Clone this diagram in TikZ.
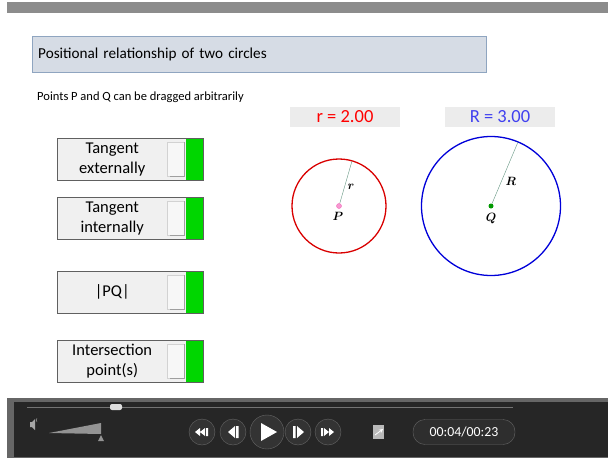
\documentclass[tikz,border=0pt]{standalone}
\usepackage{amsmath}
\usepackage{fontspec}
\setmainfont{Carlito}
\usetikzlibrary{calc,positioning,shapes}
\definecolor{titlefill}{RGB}{214,220,229}
\definecolor{titleline}{RGB}{143,165,192}
\definecolor{btngreen}{RGB}{0,214,0}
\definecolor{rblue}{RGB}{64,64,240}
\definecolor{radline}{RGB}{100,150,130}
\definecolor{bardark}{RGB}{38,38,38}

\begin{document}
\begin{tikzpicture}[x=1pt,y=-1pt,>=stealth]
    \tikzstyle{titlebox}=[rectangle,draw=titleline,fill=titlefill,anchor=north west,minimum width=454pt,minimum height=36pt,text width=442pt,inner xsep=6pt,align=left,font=\fontsize{15.2}{18}\selectfont]
    \tikzstyle{btn}=[rectangle,fill=gray!12,anchor=north west,minimum width=110pt,minimum height=42pt,text width=104pt,inner sep=0pt,align=center,font=\fontsize{16.5}{20}\selectfont]
    \tikzstyle{valbox}=[rectangle,fill=gray!15,minimum width=110pt,minimum height=20pt,inner sep=0pt,font=\fontsize{18.5}{20}\selectfont]
    \tikzstyle{pt}=[circle,inner sep=0pt,minimum size=5pt]
    \tikzstyle{lbl}=[inner sep=1pt,font=\fontsize{13}{14}\selectfont]
    \tikzstyle{ctrl}=[circle,fill=black!80,draw=black!60,minimum size=26pt,inner sep=0pt]

    \useasboundingbox (0,0) rectangle (608,458);
    \fill[white] (0,0) rectangle (608,458);
    \fill[black!45] (7,2) rectangle (608,13);

    % heading
    \node[titlebox] (title) at (32,36) {Positional relationship of two circles};
    \node[anchor=west,inner sep=0pt,font=\fontsize{12.5}{14}\selectfont] (hint) at (37,97) {Points P and Q can be dragged arbitrarily};

    % switches
    \foreach \ty/\bname/\btxt in {138/bext/{Tangent\\externally},197/bint/{Tangent\\internally},271/bpq/{|PQ|},340/bcut/{Intersection\\point(s)}}{
      \node[btn] (\bname) at (57,\ty) {\btxt};
      \fill[gray!12] (\bname.north east) rectangle ($(\bname.south east)+(36,0)$);
      \fill[btngreen] ($(\bname.north east)+(19,0)$) rectangle ($(\bname.south east)+(36,0)$);
      \draw[gray!35,fill=gray!6] ($(\bname.north east)+(0,4)$) rectangle ($(\bname.south east)+(17,-4)$);
      \draw[gray!75] ($(\bname.south east)+(3,-4)$) -- ($(\bname.south east)+(17,-4)$) -- ($(\bname.north east)+(17,4)$);
      \draw[gray!75!black] (\bname.north west) rectangle ($(\bname.south east)+(36,0)$);
    }

    % circles
    \node[valbox,text=red] (rval) at (345,117) {r = 2.00};
    \node[valbox,text=rblue] (Rval) at (500,117) {R = 3.00};
    \node[circle,draw=red!85!black,line width=1.3pt,minimum size=94pt,inner sep=0pt] (cp) at (339,206) {};
    \node[circle,draw=blue!85!black,line width=1.3pt,minimum size=139pt,inner sep=0pt] (cq) at (491,206) {};
    \coordinate (tp) at (352,161);
    \coordinate (tq) at (518,142);
    \node[pt,fill=magenta!40,draw=magenta!60] (P) at (cp.center) {};
    \node[pt,fill=green!60!black] (Q) at (cq.center) {};
    \draw[radline] (P) -- (tp);
    \draw[radline] (Q) -- (tq);
    \node[lbl] (rlab) at (351,187) {$\boldsymbol{r}$};
    \node[lbl] (Rlab) at (511,181) {$\boldsymbol{R}$};
    \node[lbl] (Plab) at (338,216) {$\boldsymbol{P}$};
    \node[lbl] (Qlab) at (491,219) {$\boldsymbol{Q}$};

    % player bar
    \fill[black!60] (7,398) rectangle (608,458);
    \fill[bardark] (14,402) rectangle (608,457);
    \coordinate (trackl) at (27,407);
    \coordinate (trackr) at (513,407);
    \draw[black!55] (trackl) -- (trackr);
    \node[rectangle,rounded corners=2pt,fill=gray!25,minimum width=12pt,minimum height=6pt,inner sep=0pt] (thumb) at (116,407) {};
    \fill[gray!70] (30,422) rectangle (32,427) (32,422) -- (35,419) -- (35,430) -- (32,427) -- cycle;
    \draw[gray!70] (37,422) arc (-40:40:-3);
    \fill[gray!85] (49,433) -- (101,423) -- (101,434) -- cycle;
    \fill[gray!85] (98,441) -- (101,435) -- (104,441) -- cycle;

    \node[ctrl] (bback) at (202,432) {};
    \node[ctrl] (bstepb) at (233,432) {};
    \node[ctrl,minimum size=34pt] (bplay) at (267,432) {};
    \node[ctrl] (bstepf) at (298,432) {};
    \node[ctrl] (bfwd) at (328,432) {};
    \fill[white] ($(bback)+(-7,0)$) -- ++(5,-4) -- ++(0,8) -- cycle
                 ($(bback)+(-2,0)$) -- ++(5,-4) -- ++(0,8) -- cycle
                 ($(bback)+(4,-4)$) rectangle ++(2,8);
    \fill[white] ($(bstepb)+(-5,0)$) -- ++(7,-6) -- ++(0,12) -- cycle
                 ($(bstepb)+(3,-6)$) rectangle ++(2.5,12);
    \fill[white] ($(bplay)+(-6,-9)$) -- ++(0,18) -- ++(16,-9) -- cycle;
    \fill[white] ($(bstepf)+(-5,-6)$) rectangle ++(2.5,12)
                 ($(bstepf)+(-1,-6)$) -- ++(0,12) -- ++(7,-6) -- cycle;
    \fill[white] ($(bfwd)+(-7,-4)$) rectangle ++(2,8)
                 ($(bfwd)+(-4,-4)$) -- ++(0,8) -- ++(5,-4) -- cycle
                 ($(bfwd)+(1,-4)$) -- ++(0,8) -- ++(5,-4) -- cycle;

    \node[rectangle,fill=gray!55,minimum width=11pt,minimum height=14pt,inner sep=0pt] (share) at (378,432) {};
    \draw[white,->,thick] ($(share)+(-3,3)$) -- ($(share)+(5,-3)$);
    \node[rectangle,rounded corners=12pt,fill=black!82,draw=black!60,minimum width=102pt,minimum height=25pt,text=white,font=\fontsize{13.8}{15}\selectfont] (clock) at (464,432) {00:04/00:23};
\end{tikzpicture}
\end{document}
